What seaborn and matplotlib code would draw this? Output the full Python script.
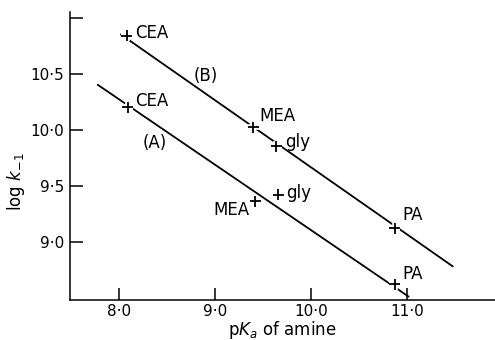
import matplotlib
matplotlib.use("Agg")
import matplotlib.pyplot as plt
import matplotlib.patheffects as pe
import pandas as pd
import seaborn as sns

# Amines and measured points for the two series
amines = ["CEA", "MEA", "gly", "PA"]
pka_A = [8.09, 9.42, 9.66, 10.875]
logk_A = [10.20, 9.36, 9.42, 8.62]
pka_B = [8.08, 9.40, 9.64, 10.875]
logk_B = [10.84, 10.02, 9.85, 9.12]

# Least-squares lines drawn through each series (end points)
fit_A_x = [7.78, 11.02]
fit_A_y = [10.40, 8.51]
fit_B_x = [8.02, 11.48]
fit_B_y = [10.85, 8.78]

x_ticks = [8.0, 9.0, 10.0, 11.0]
x_ticklabels = ["8·0", "9·0", "10·0", "11·0"]
y_ticks = [9.0, 9.5, 10.0, 10.5, 11.0]
y_ticklabels = ["9·0", "9·5", "10·0", "10·5", ""]

sns.set_theme(style="ticks")
plt.rcParams["font.family"] = ["DejaVu Sans"]
plt.rcParams["mathtext.fontset"] = "dejavusans"
plt.rcParams["text.color"] = "black"
plt.rcParams["axes.labelcolor"] = "black"

fig = plt.figure(figsize=(4.95, 3.40), dpi=100)
ax = fig.add_axes([70 / 495, 1 - 300 / 340, 1 - 70 / 495, 288 / 340])

fits = pd.DataFrame({
    "pKa": fit_A_x + fit_B_x,
    "logk": fit_A_y + fit_B_y,
    "series": ["A"] * 2 + ["B"] * 2,
})
sns.lineplot(data=fits, x="pKa", y="logk", units="series", estimator=None,
             color="black", linewidth=1.3, ax=ax, legend=False)

points = pd.DataFrame({
    "pKa": pka_A + pka_B,
    "logk": logk_A + logk_B,
    "amine": amines + amines,
    "series": ["A"] * 4 + ["B"] * 4,
})
sns.scatterplot(data=points, x="pKa", y="logk", marker="+", s=65,
                color="black", linewidth=1.3, ax=ax, legend=False, zorder=3,
                path_effects=[pe.withStroke(linewidth=4, foreground="white")])

# Label offsets in pixels relative to each point
offsets_A = {"CEA": (8, 6, "left"), "MEA": (-6, -9, "right"),
             "gly": (8, 2, "left"), "PA": (8, 10, "left")}
offsets_B = {"CEA": (9, 3, "left"), "MEA": (6, 11, "left"),
             "gly": (9, 4, "left"), "PA": (8, 13, "left")}
for xs, ys, offs in ((pka_A, logk_A, offsets_A), (pka_B, logk_B, offsets_B)):
    for name, x, y in zip(amines, xs, ys):
        dx, dy, ha = offs[name]
        ax.annotate(name, (x, y), xytext=(dx, dy), textcoords="offset pixels",
                    ha=ha, va="center", fontsize=12, color="black")

ax.text(8.375, 9.88, "(A)", ha="center", va="center", fontsize=12, color="black")
ax.text(8.90, 10.48, "(B)", ha="center", va="center", fontsize=12, color="black")

ax.set_xlim(7.49, 11.92)
ax.set_ylim(8.48, 11.05)
ax.set_xticks(x_ticks)
ax.set_xticklabels(x_ticklabels)
ax.set_yticks(y_ticks)
ax.set_yticklabels(y_ticklabels)
ax.tick_params(direction="in", length=9, width=1.1, colors="black",
               labelsize=11, pad=4)
ax.tick_params(axis="x", pad=3)
for side in ("top", "right"):
    ax.spines[side].set_visible(False)
for side in ("left", "bottom"):
    ax.spines[side].set_color("black")
    ax.spines[side].set_linewidth(1.1)

ax.set_xlabel(r"p$K_a$ of amine", fontsize=12, labelpad=0)
ax.set_ylabel(r"log $k_{-1}$", fontsize=12)
ax.yaxis.set_label_coords(-0.10, 0.41)

fig.savefig("out.png", dpi=100)
